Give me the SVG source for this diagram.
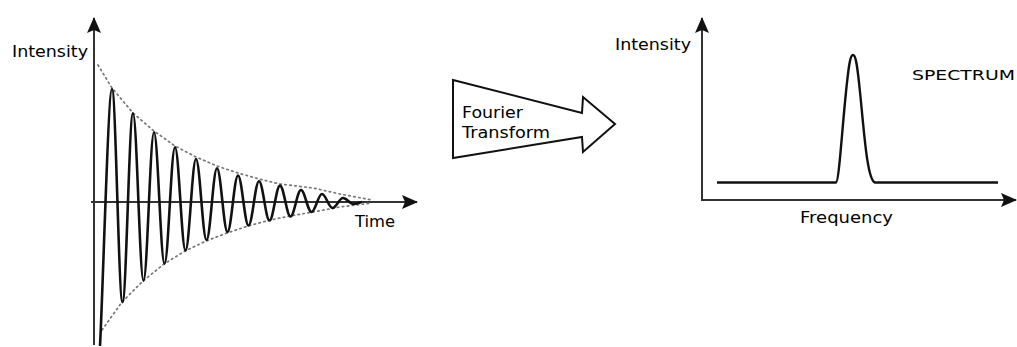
<svg xmlns="http://www.w3.org/2000/svg" width="1017" height="347" viewBox="0 0 1017 347">
  <style>
    .axis { stroke: #333; stroke-width: 2; fill: none; }
    .wave { stroke: #111; stroke-width: 2.6; fill: none; stroke-linejoin: round; }
    .env { stroke: #777; stroke-width: 1.7; fill: none; stroke-dasharray: 1.5 3.5; stroke-linecap: round; }
    .label { font-family: "DejaVu Sans", "Liberation Sans", sans-serif; fill: #000; }
  </style>
  <defs>
    <marker id="arrow" viewBox="0 0 16 14" refX="15" refY="7" markerWidth="16" markerHeight="14" markerUnits="userSpaceOnUse" orient="auto">
      <path d="M0,0 L16,7 L0,14 L3,7 Z" fill="#111"/>
    </marker>
  </defs>
  <rect width="1017" height="347" fill="#fff"/>

  <!-- Time-domain signal: decaying oscillation -->
  <g id="time-plot">
    <line class="axis" x1="94" y1="345" x2="94" y2="18" marker-end="url(#arrow)"/>
    <line class="axis" x1="91" y1="202" x2="417" y2="202" marker-end="url(#arrow)" stroke="#222" stroke-width="2.4"/>
    <polyline class="env" points="98,65 112,88 133,113 154,131 175,146 196,157 217,166 238,173 259,179 280,184 313,188 340,194 372,200"/>
    <polyline class="env" points="102,330 122,302 143,281 164,264 185,251 206,241 227,233 248,226 270,220 290,216 313,212 340,207 372,203"/>
    <path class="wave" d="M100,346 C103,290 108.2,89 112,89
      S118.7,302.1 122.5,302.1 S129.2,113.2 133,113.2 S139.7,280.7 143.5,280.7
      S150.2,132.3 154,132.3 S160.7,263.8 164.5,263.8 S171.2,147.2 175,147.2
      S181.7,250.5 185.5,250.5 S192.2,159 196,159 S202.7,240.1 206.5,240.1
      S213.2,168.2 217,168.2 S223.7,231.9 227.5,231.9 S234.2,175.5 238,175.5
      S244.7,225.5 248.5,225.5 S255.2,181.2 259,181.2 S265.7,220.5 269.5,220.5
      S276.2,185.6 280,185.6 S286.7,216.5 290.5,216.5 S297.2,190 301,190
      S307.7,212 311.5,212 S318.2,194 322,194 S328.7,208 332.5,208
      S339.2,198 343,198 S349.7,204 353.5,204 S360,202 362,202"/>
    <text class="label" x="12" y="57" font-size="16" textLength="76" lengthAdjust="spacingAndGlyphs">Intensity</text>
    <text class="label" x="355" y="227" font-size="16" textLength="40" lengthAdjust="spacingAndGlyphs">Time</text>
  </g>

  <!-- Transform arrow -->
  <g id="fourier-transform">
    <path d="M453,80 L582,113 L583,97 L615,124 L583,152 L582,137 L453,158 Z" fill="#fff" stroke="#111" stroke-width="2" stroke-linejoin="miter"/>
    <text class="label" x="462" y="118" font-size="15" textLength="61" lengthAdjust="spacingAndGlyphs">Fourier</text>
    <text class="label" x="462" y="138" font-size="15" textLength="88" lengthAdjust="spacingAndGlyphs">Transform</text>
  </g>

  <!-- Frequency-domain spectrum -->
  <g id="spectrum-plot">
    <line class="axis" x1="702" y1="201" x2="702" y2="18" marker-end="url(#arrow)"/>
    <line class="axis" x1="701" y1="200" x2="1016" y2="200" marker-end="url(#arrow)" stroke="#222" stroke-width="2.4"/>
    <path d="M717,182.5 L836,182.5 C839,182 842,130 846,92 C849,62 850.5,55 853,55 C855.5,55 857,62 860,92 C864,130 867,180 875,182.5 L998,182.5" fill="none" stroke="#111" stroke-width="2.4" stroke-linejoin="round"/>
    <text class="label" x="615" y="50" font-size="16" textLength="76" lengthAdjust="spacingAndGlyphs">Intensity</text>
    <text class="label" x="800" y="223" font-size="16" textLength="93" lengthAdjust="spacingAndGlyphs">Frequency</text>
    <text class="label" x="912" y="80" font-size="13.5" textLength="103" lengthAdjust="spacingAndGlyphs">SPECTRUM</text>
  </g>
</svg>
